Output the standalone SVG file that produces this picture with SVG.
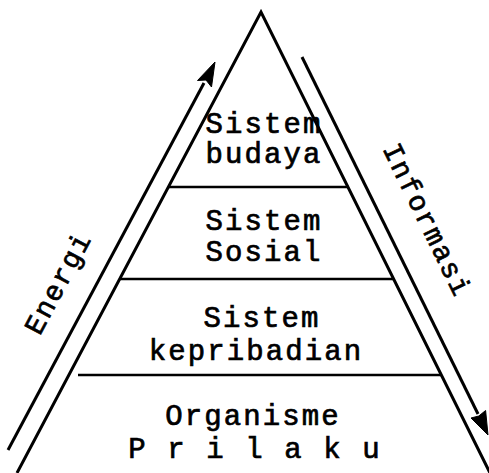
<svg xmlns="http://www.w3.org/2000/svg" width="489" height="473" viewBox="0 0 489 473">
<style>
.edge{fill:none;stroke:#000;stroke-width:3;stroke-linejoin:miter;stroke-miterlimit:10}
.div{stroke:#000;stroke-width:2.5}
.t{font-family:"Liberation Mono","DejaVu Sans Mono",monospace;font-size:29px;font-weight:normal;stroke:#000;stroke-width:0.7;letter-spacing:2.1px;text-anchor:middle;fill:#000}
.r{font-family:"Liberation Mono","DejaVu Sans Mono",monospace;font-size:28px;font-weight:normal;stroke:#000;stroke-width:0.7;letter-spacing:1.8px;text-anchor:middle;fill:#000}
.ah{fill:#000;stroke:#000;stroke-width:1}
</style>
<g id="pyramid">
<polyline class="edge" points="17,473 261,12 490,473"/>
<line class="div" x1="168" y1="187" x2="349" y2="187"/>
<line class="div" x1="120" y1="279" x2="394" y2="279"/>
<line class="div" x1="78" y1="375" x2="442" y2="375"/>
</g>
<g id="budaya">
<text class="t" x="264" y="133">Sistem</text>
<text class="t" x="264" y="163">budaya</text>
</g>
<g id="sosial">
<text class="t" x="264" y="230">Sistem</text>
<text class="t" x="264" y="261">Sosial</text>
</g>
<g id="kepribadian">
<text class="t" x="262" y="327">Sistem</text>
<text class="t" x="256" y="360">kepribadian</text>
</g>
<g id="organisme">
<text class="t" x="253" y="425">Organisme</text>
<text class="t" x="255" y="458">P r i l a k u</text>
</g>
<g id="connectors">
<line x1="8" y1="450" x2="204" y2="83" stroke="#000" stroke-width="3"/>
<path class="ah" d="M215,62 L211.5,87 L206,80 L197.5,80.5 Z"/>
<line x1="302" y1="57" x2="478" y2="414" stroke="#000" stroke-width="3"/>
<path class="ah" d="M488,435 L471,418 L478.8,416 L485.6,410.5 Z"/>
</g>
<g id="energi">
<text class="r" transform="translate(58,283) rotate(-62)" y="9">Energi</text>
</g>
<g id="informasi">
<text class="r" transform="translate(427,220) rotate(64)" y="9">Informasi</text>
</g>
</svg>
